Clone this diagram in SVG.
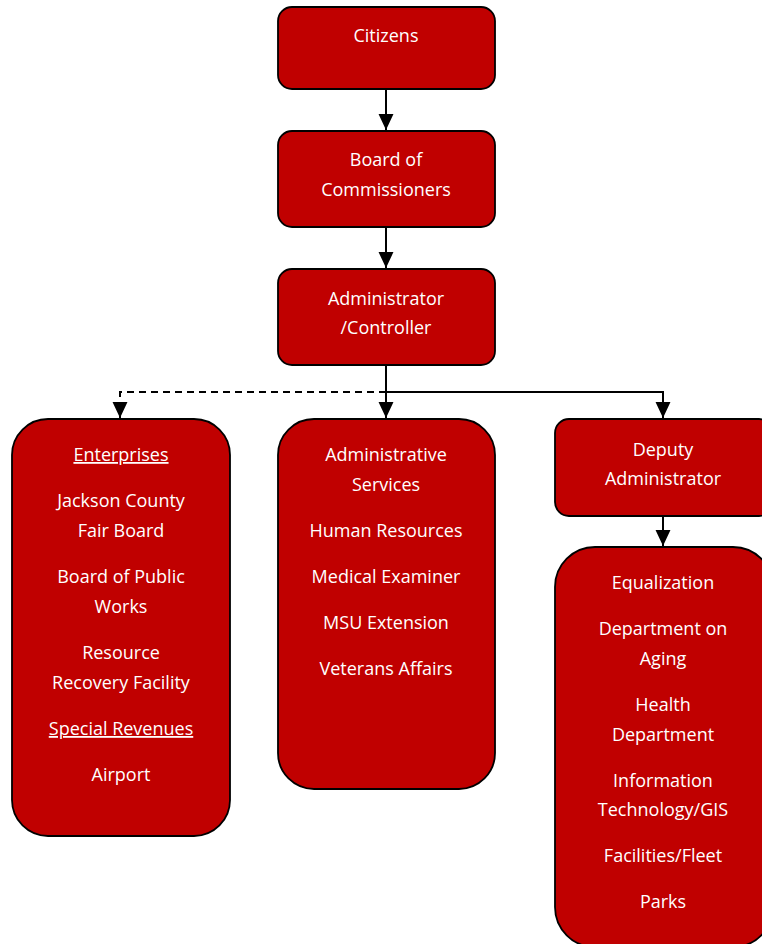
<svg xmlns="http://www.w3.org/2000/svg" width="762" height="944" viewBox="0 0 762 944">
<defs>
<marker id="arr" markerWidth="16" markerHeight="16" refX="15" refY="7" orient="auto" markerUnits="userSpaceOnUse" viewBox="0 0 15 14">
<path d="M0,0 L15,7 L0,14 Z" fill="#000"/>
</marker>
<style>
.box{fill:#C00000;stroke:#000;stroke-width:1.8}
text{font-family:"Open Sans","Noto Sans","Liberation Sans",sans-serif;font-size:18px;fill:#fff;text-anchor:middle}
.u{text-decoration:underline}
.c{fill:none;stroke:#000;stroke-width:2}
.d{stroke-dasharray:7,5}
</style>
</defs>
<rect width="762" height="944" fill="#fff"/>
<g id="connectors">
<line class="c" x1="386" y1="90" x2="386" y2="130" marker-end="url(#arr)"/>
<line class="c" x1="386" y1="228" x2="386" y2="268" marker-end="url(#arr)"/>
<line class="c" x1="386" y1="366" x2="386" y2="418" marker-end="url(#arr)"/>
<polyline class="c" points="386,392 663,392 663,418" marker-end="url(#arr)"/>
<polyline class="c d" points="386,392 120,392 120,418" marker-end="url(#arr)"/>
<line class="c" x1="663" y1="517" x2="663" y2="546" marker-end="url(#arr)"/>
</g>
<g id="citizens">
<rect class="box" x="278" y="7" width="217" height="82" rx="14"/>
<text x="386" y="42">Citizens</text>
</g>
<g id="board">
<rect class="box" x="278" y="131" width="217" height="96" rx="14"/>
<text x="386" y="166">Board of</text>
<text x="386" y="196">Commissioners</text>
</g>
<g id="administrator">
<rect class="box" x="278" y="269" width="217" height="96" rx="14"/>
<text x="386" y="305">Administrator</text>
<text x="386" y="334">/Controller</text>
</g>
<g id="enterprises">
<rect class="box" x="12" y="419" width="218" height="417" rx="36"/>
<text x="121" y="461" class="u">Enterprises</text>
<text x="121" y="507">Jackson County</text>
<text x="121" y="537">Fair Board</text>
<text x="121" y="583">Board of Public</text>
<text x="121" y="613">Works</text>
<text x="121" y="659">Resource</text>
<text x="121" y="689">Recovery Facility</text>
<text x="121" y="735" class="u">Special Revenues</text>
<text x="121" y="781">Airport</text>
</g>
<g id="admin-services">
<rect class="box" x="278" y="419" width="217" height="370" rx="36"/>
<text x="386" y="461">Administrative</text>
<text x="386" y="491">Services</text>
<text x="386" y="537">Human Resources</text>
<text x="386" y="583">Medical Examiner</text>
<text x="386" y="629">MSU Extension</text>
<text x="386" y="675">Veterans Affairs</text>
</g>
<g id="deputy">
<rect class="box" x="555" y="419" width="218" height="97" rx="14"/>
<text x="663" y="456">Deputy</text>
<text x="663" y="485">Administrator</text>
</g>
<g id="departments">
<rect class="box" x="555" y="547" width="218" height="400" rx="40"/>
<text x="663" y="589">Equalization</text>
<text x="663" y="635">Department on</text>
<text x="663" y="665">Aging</text>
<text x="663" y="711">Health</text>
<text x="663" y="741">Department</text>
<text x="663" y="787">Information</text>
<text x="663" y="816">Technology/GIS</text>
<text x="663" y="862">Facilities/Fleet</text>
<text x="663" y="908">Parks</text>
</g>
</svg>
